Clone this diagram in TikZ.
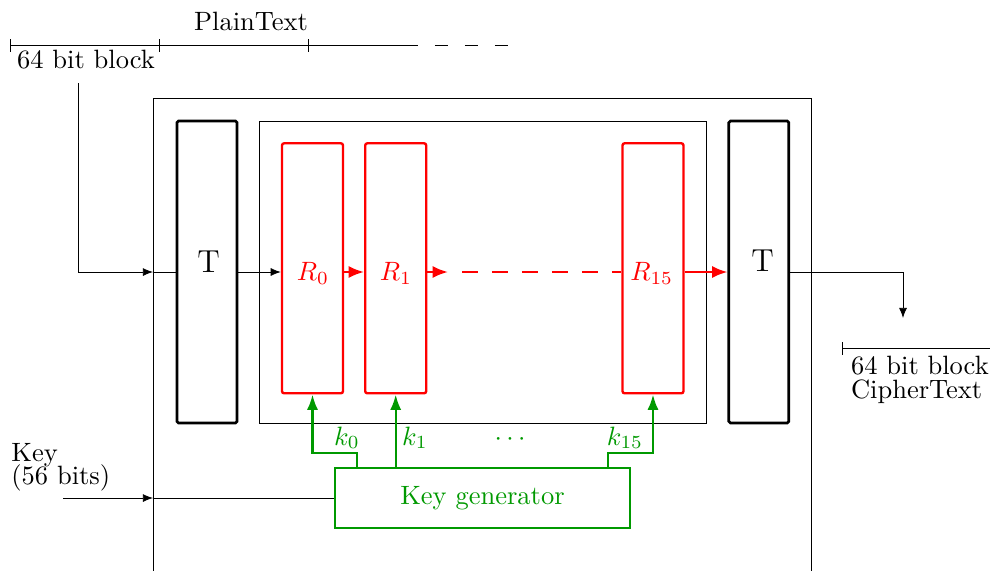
\documentclass[tikz,border=0pt]{standalone}
\usetikzlibrary{arrows.meta,calc}
\definecolor{kgreen}{RGB}{0,153,0}
\definecolor{rred}{RGB}{255,0,0}
\newcommand\pxu{0.3774pt}
\begin{document}
\begin{tikzpicture}[x=0.3774pt,y=-0.3774pt,line width=0.3pt,
  blk/.style={line width=0.3pt,-{Latex[length=3.8pt,width=3pt]}},
  redarr/.style={rred,line width=0.9pt,-{Latex[length=5.8pt,width=4.6pt]}},
  grnarr/.style={kgreen,line width=0.9pt,-{Latex[length=5.8pt,width=4.2pt]}},
  tbox/.style={draw,line width=1pt,rounded corners=0.6pt,inner sep=0pt,
    minimum width=60*\pxu,minimum height=302*\pxu},
  rbox/.style={draw=rred,line width=0.9pt,rounded corners=0.8pt,inner sep=0pt,
    minimum width=61*\pxu,minimum height=250*\pxu},
  txt/.style={inner sep=0pt,anchor=base},
  txtw/.style={inner sep=0pt,anchor=base west}]
\useasboundingbox (0,0) rectangle (990,571);

% plaintext scale
\draw (10,45) -- (418,45);
\draw[dash pattern=on 4.9pt off 6.4pt,dash phase=4.9pt] (418,45) -- (512,45);
\draw (10,39) -- (10,52);
\draw (159,39) -- (159,52);
\draw (308,39) -- (308,52);
\node[txt] (pt) at (251,30) {PlainText};
\node[txt] (blk1) at (86,68) {64 bit block};

% outer frame
\draw (153,571) -- (153,98) -- (811,98) -- (811,571);

% boxes
\node[tbox] (T1) at (207,272) {};
\node[txt,font=\large] (T1l) at (208.5,272.7) {T};
\node[draw,inner sep=0pt,minimum width=447*\pxu,minimum height=302*\pxu] (rounds) at (482.7,272) {};
\node[rbox] (R0) at (312.5,268.3) {};
\node[rbox] (R1) at (395.7,268.3) {};
\node[rbox] (R15) at (653,268.3) {};
\node[txt,text=rred] (R0l) at (313,280.7) {$R_0$};
\node[txt,text=rred] (R1l) at (396,280.7) {$R_1$};
\node[txt,text=rred] (R15l) at (651.7,280.7) {$R_{15}$};
\node[tbox] (T2) at (758.8,272) {};
\node[txt,font=\large] (T2l) at (762.5,271.7) {T};

% input
\coordinate (pin) at (78,83);
\coordinate (oin) at (153,272);
\draw[blk] (pin) |- (oin);
\draw (oin) -- (T1.west);
\draw[blk] (T1.east) -- (R0.west |- T1.east);

% rounds chain
\coordinate (dstart) at (448,272);
\draw[redarr] (R0.east |- T1.east) -- (R1.west |- T1.east);
\draw[redarr] (R1.east |- T1.east) -- (dstart);
\draw[rred,line width=0.9pt,dash pattern=on 6pt off 5.3pt,dash phase=6pt] (dstart) -- (R15.west |- T1.east);
\draw[redarr] (R15.east |- T1.east) -- (T2.west);

% output
\coordinate (outc) at (903,318);
\draw[blk] (T2.east) -| (outc);
\draw (842,348) -- (990,348);
\draw (842,342) -- (842,355);
\node[txtw] (blk2) at (850.7,374) {64 bit block};
\node[txtw] (ct) at (850.7,398) {CipherText};

% key
\node[txtw] (key) at (11,461) {Key};
\node[txtw] (keyb) at (11,484) {(56 bits)};
\node[draw=kgreen,line width=0.9pt,inner sep=0pt,minimum width=295*\pxu,minimum height=60*\pxu,text=kgreen] (KG) at (482.5,498) {Key generator};
\coordinate (kin) at (63,498);
\coordinate (kout) at (153,498);
\draw[blk] (kin) -- (kout);
\draw (kout) -- (KG.west);

\draw[grnarr] ($(KG.north west)+(23,0)$) -- ++(0,-14) -| (R0.south);
\draw[grnarr] (KG.north -| R1.south) -- (R1.south);
\draw[grnarr] ($(KG.north east)+(-23,0)$) -- ++(0,-14) -| (R15.south);
\node[txt,text=kgreen] (k0) at (347,445) {$k_0$};
\node[txt,text=kgreen] (k1) at (415,445) {$k_1$};
\node[txt,text=kgreen] (k15) at (625,445) {$k_{15}$};
\node[txt,text=kgreen] (dots) at (510,445) {$\cdots$};
\end{tikzpicture}
\end{document}
